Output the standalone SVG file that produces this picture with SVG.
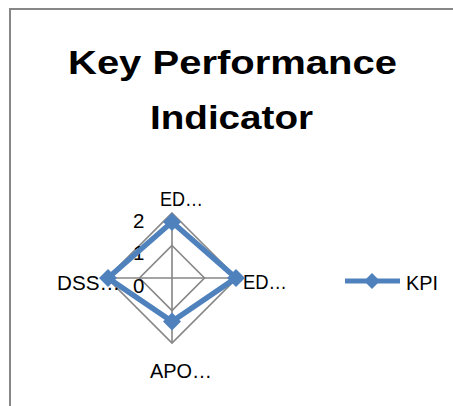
<svg xmlns="http://www.w3.org/2000/svg" width="453" height="406" viewBox="0 0 453 406">
  <style>
    .title { font-family: "Liberation Sans", Arial, sans-serif; font-weight: bold; font-size: 33px; fill: #000; }
    .lbl { font-family: "Liberation Sans", Arial, sans-serif; font-size: 20.5px; fill: #000; }
    .grid { fill: none; stroke: #868686; stroke-width: 1.6; }
    .series { fill: none; stroke: #4F81BD; stroke-width: 5.5; stroke-linejoin: round; }
    .mark { fill: #4F81BD; }
  </style>
  <defs>
    <path id="diamond" d="M0,-9 L9,0 L0,9 L-9,0 Z" class="mark"/>
  </defs>

  <rect width="453" height="406" fill="#ffffff"/>
  <!-- chart frame -->
  <rect x="10" y="9" width="470" height="430" fill="none" stroke="#878787" stroke-width="2"/>

  <!-- chart title -->
  <g id="title">
    <text class="title" x="232.5" y="74" text-anchor="middle" textLength="329" lengthAdjust="spacingAndGlyphs">Key Performance</text>
    <text class="title" x="231.5" y="129" text-anchor="middle" textLength="163" lengthAdjust="spacingAndGlyphs">Indicator</text>
  </g>

  <!-- radar grid: center (172,278), outer radius 65 -->
  <g id="grid">
    <polygon class="grid" points="172,213 237,278 172,343 107,278"/>
    <polygon class="grid" points="172,245.5 204.5,278 172,310.5 139.5,278"/>
    <line class="grid" x1="172" y1="278" x2="172" y2="213"/>
    <line class="grid" x1="172" y1="278" x2="237" y2="278"/>
    <line class="grid" x1="172" y1="278" x2="172" y2="343"/>
    <line class="grid" x1="172" y1="278" x2="107" y2="278"/>
  </g>

  <!-- value axis ticks -->
  <g id="ticks">
    <text class="lbl" x="133" y="228">2</text>
    <text class="lbl" x="133" y="260">1</text>
    <text class="lbl" x="133" y="293">0</text>
  </g>

  <!-- category labels -->
  <g id="cat-top"><text class="lbl" x="160" y="206" textLength="43" lengthAdjust="spacingAndGlyphs">ED…</text></g>
  <g id="cat-right"><text class="lbl" x="243" y="289" textLength="44" lengthAdjust="spacingAndGlyphs">ED…</text></g>
  <g id="cat-bottom"><text class="lbl" x="150" y="378" textLength="62" lengthAdjust="spacingAndGlyphs">APO…</text></g>
  <g id="cat-left"><text class="lbl" x="57" y="290" textLength="63" lengthAdjust="spacingAndGlyphs">DSS…</text></g>

  <!-- KPI series -->
  <g id="series-kpi">
    <polygon class="series" points="172,222 236,278 172,321.5 108,278"/>
    <use href="#diamond" x="172" y="222"/>
    <use href="#diamond" x="236" y="278"/>
    <use href="#diamond" x="172" y="321.5"/>
    <use href="#diamond" x="108" y="278"/>
  </g>

  <!-- legend -->
  <g id="legend">
    <line x1="345" y1="281" x2="400" y2="281" stroke="#4F81BD" stroke-width="5"/>
    <path d="M372,273 L380,281 L372,289 L364,281 Z" class="mark"/>
    <text class="lbl" x="406" y="290" textLength="32" lengthAdjust="spacingAndGlyphs">KPI</text>
  </g>
</svg>
